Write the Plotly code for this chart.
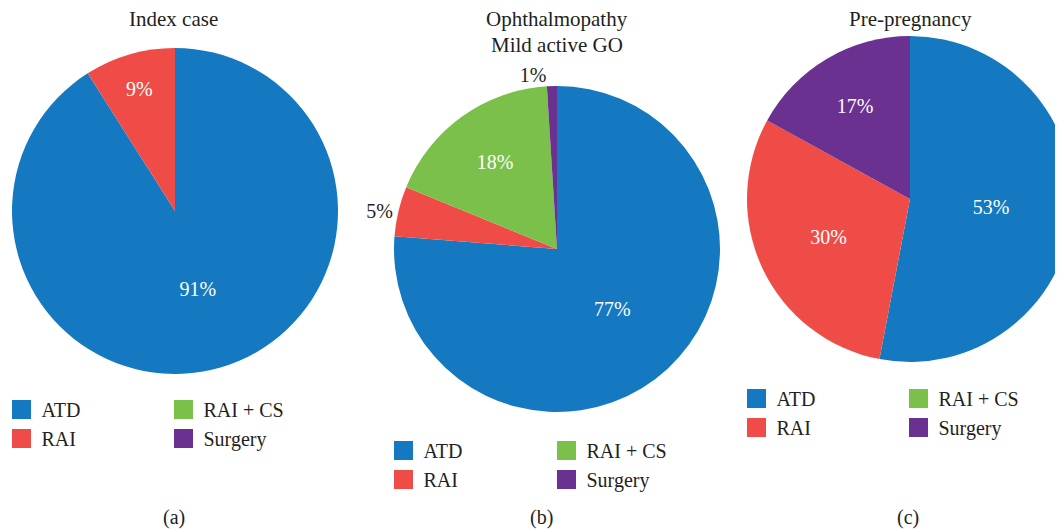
import plotly.graph_objects as go

# ---------------- data ----------------
labels = ["ATD", "RAI", "RAI + CS", "Surgery"]
colors = ["#1479C0", "#F04C47", "#7AC04A", "#6A3191"]

index_case = [91, 9, 0, 0]
mild_active_go = [77, 5, 18, 1]
pre_pregnancy = [53, 30, 0, 17]

titles = [["Index case"], ["Ophthalmopathy", "Mild active GO"], ["Pre-pregnancy"]]
panel_tags = ["(a)", "(b)", "(c)"]

# ---------------- layout helpers ----------------
W, H = 1075, 529
OFF = 8  # page body margin
FONT = "Liberation Serif, Times New Roman, serif"
TXT = "#231f20"
TITLE_LINE_Y = [19, 45]


def px(x):
    return (x - OFF) / W


def py(y):
    return 1 - (y - OFF) / H


panels = [
    dict(values=index_case, dom_x=(12, 338), dom_y=(48, 374),
         pos=["inside", "inside", "inside", "inside"],
         title_x=174, tag_xy=(174, 517), leg=(1.5, 163.5, 390)),
    dict(values=mild_active_go, dom_x=(394, 720), dom_y=(86, 412),
         pos=["inside", "outside", "inside", "outside"],
         title_x=557, tag_xy=(541, 517), leg=(383.5, 546.5, 431)),
    dict(values=pre_pregnancy, dom_x=(747, 1073), dom_y=(36, 362),
         pos=["inside", "inside", "inside", "inside"],
         title_x=910, tag_xy=(908, 517), leg=(736.5, 898.5, 379)),
]

fig = go.Figure()
annotations = []
legends = {}
leg_idx = 0

for p, title_lines, tag in zip(panels, titles, panel_tags):
    vals = p["values"]
    fig.add_trace(go.Pie(
        labels=labels,
        values=vals,
        text=[f"{v}%" for v in vals],
        textinfo="text",
        textposition=p["pos"],
        insidetextorientation="horizontal",
        insidetextfont=dict(color="white", size=20, family=FONT),
        outsidetextfont=dict(color=TXT, size=20, family=FONT),
        marker=dict(colors=colors, line=dict(width=0)),
        sort=False,
        direction="clockwise",
        rotation=0,
        showlegend=False,
        hoverinfo="label+percent",
        domain=dict(x=[px(p["dom_x"][0]), px(p["dom_x"][1])],
                    y=[py(p["dom_y"][1]), py(p["dom_y"][0])]),
    ))
    for line, ly in zip(title_lines, TITLE_LINE_Y):
        annotations.append(dict(text=line, x=px(p["title_x"]), y=py(ly),
                                xref="paper", yref="paper", xanchor="center", yanchor="middle",
                                showarrow=False, font=dict(size=21, color=TXT, family=FONT)))
    annotations.append(dict(text=tag, x=px(p["tag_xy"][0]), y=py(p["tag_xy"][1]),
                            xref="paper", yref="paper", xanchor="center", yanchor="middle",
                            showarrow=False, font=dict(size=20, color=TXT, family=FONT)))

    # legend: two columns, each its own vertical legend
    lx1, lx2, ltop = p["leg"]
    for col, lx in enumerate([lx1, lx2]):
        leg_idx += 1
        lname = "legend" if leg_idx == 1 else f"legend{leg_idx}"
        legends[lname] = dict(
            x=px(lx), y=py(ltop), xanchor="left", yanchor="top",
            orientation="v", bgcolor="rgba(0,0,0,0)", borderwidth=0,
            font=dict(size=20, color=TXT, family=FONT),
            itemclick=False, itemdoubleclick=False,
        )
        for k in (2 * col, 2 * col + 1):
            fig.add_trace(go.Scatter(
                x=[None], y=[None], mode="markers", name=labels[k],
                marker=dict(symbol="square", size=16, color=colors[k],
                            line=dict(width=3, color=colors[k])),
                legend=lname, showlegend=True, hoverinfo="skip",
            ))

fig.update_layout(
    width=W, height=H,
    margin=dict(l=0, r=0, t=0, b=0, autoexpand=False),
    paper_bgcolor="white", plot_bgcolor="white",
    font=dict(family=FONT, color=TXT),
    xaxis=dict(visible=False), yaxis=dict(visible=False),
    annotations=annotations,
    **legends,
)

fig.write_html("out.html")
